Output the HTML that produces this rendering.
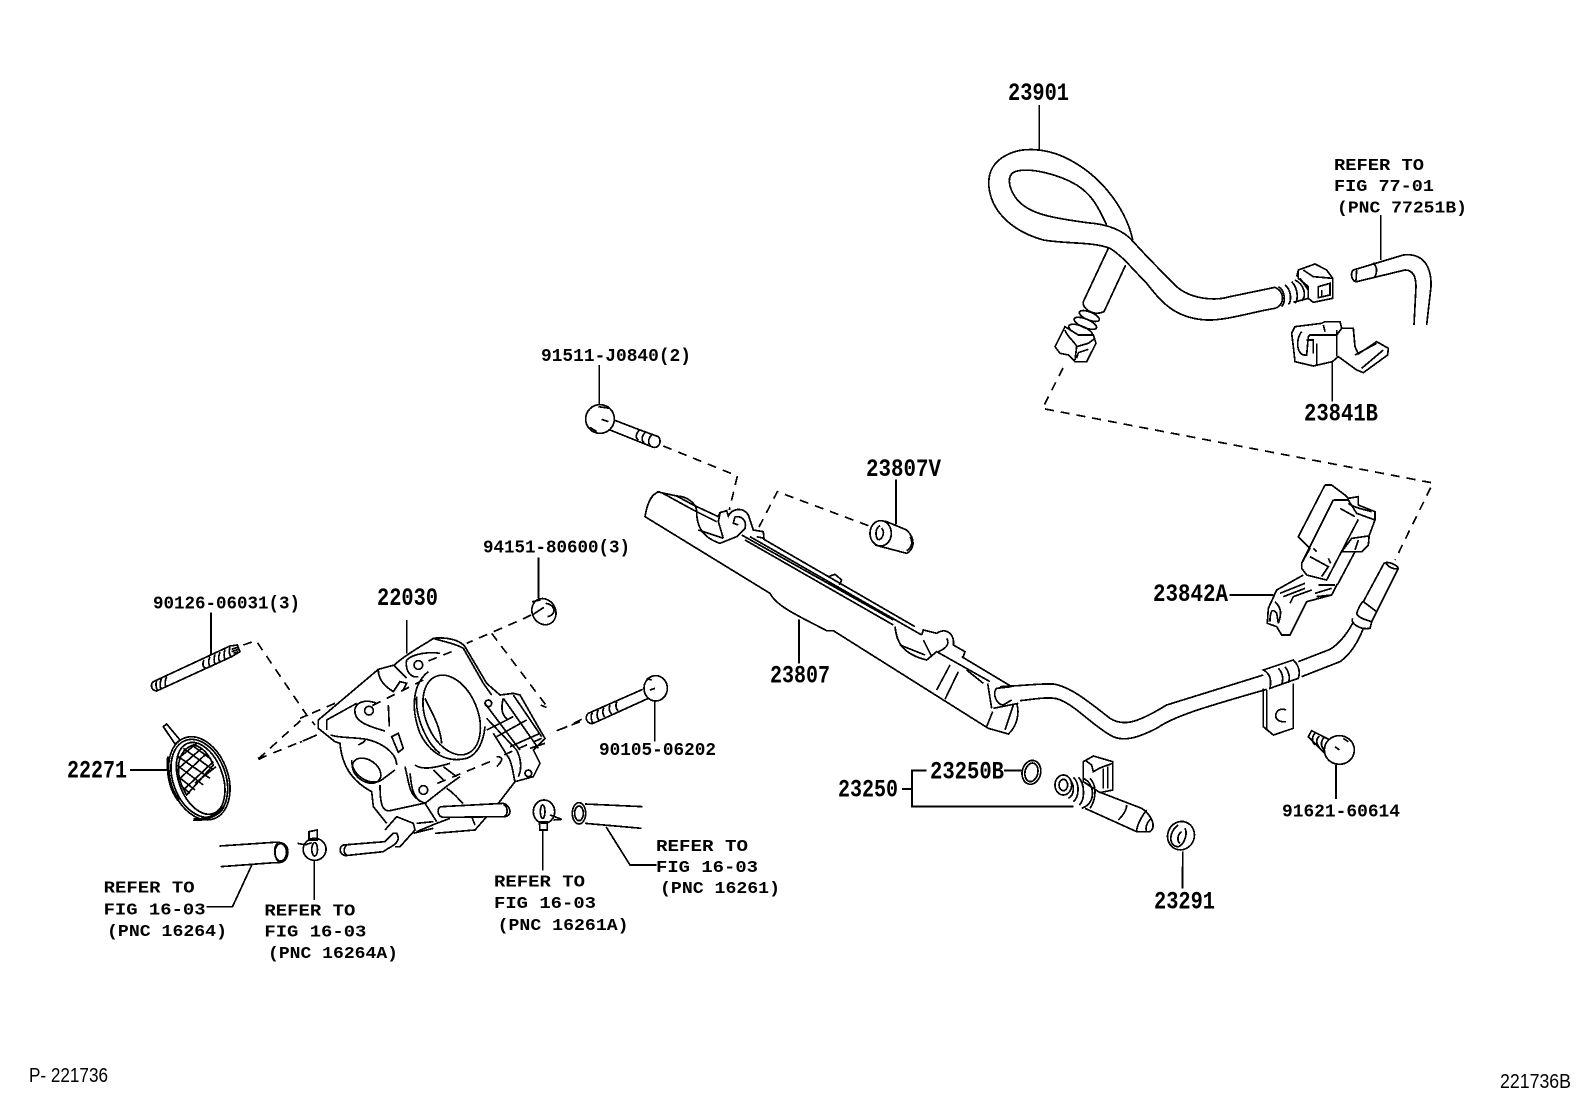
<!DOCTYPE html>
<html><head><meta charset="utf-8"><style>
html,body{margin:0;padding:0;background:#fff}
svg{display:block}
path,line,ellipse,circle{vector-effect:non-scaling-stroke;fill:none;stroke:#000;stroke-width:1.7}
.d{stroke-dasharray:9 7}
.w{fill:#fff}
.lb{stroke-width:1.9}
text{font-family:"Liberation Mono",monospace;font-weight:bold;fill:#000;stroke:none}
.b{font-size:25px}.s{font-size:18.5px}.r{font-size:17px}
.n{font-family:"Liberation Sans",sans-serif;font-weight:normal;font-size:20px}
</style></head><body>
<svg width="1592" height="1099" viewBox="0 0 1592 1099" xmlns="http://www.w3.org/2000/svg" shape-rendering="crispEdges">
<rect width="1592" height="1099" fill="#fff"/>

<!-- Z1 upper hose -->
<g transform="translate(960,60) scale(.33333)">
<path d="M238 135V268"/>
<path d="M518 540C505 470 440 350 310 290C260 268 190 258 140 285C100 305 80 340 88 390C100 460 160 515 250 540C320 552 400 545 450 565C490 590 520 630 560 670C600 720 640 775 740 780C800 782 880 755 945 745"/>
<path d="M440 495C410 430 390 400 350 375C300 345 210 320 165 335C140 345 145 380 165 410C200 465 290 475 380 488C440 492 490 510 520 545C560 590 610 640 650 680C690 715 760 725 810 710L945 682"/>
<path d="M445 565L370 725M497 615L432 755M370 725C365 745 400 770 432 755"/>
<path d="M945 682C975 695 975 735 945 745"/>
<path d="M955 680C975 690 978 725 965 740M975 675C995 690 995 725 985 733M995 665C1015 685 1015 720 1005 730M1005 660C1035 675 1040 710 1025 722M1020 655L1045 690V715L1000 727"/>
<path d="M1015 630L1065 612L1100 630L1118 655V715L1060 727L1045 715V680L1015 655ZM1015 630L1010 650M1030 630L1060 650L1118 655M1075 680L1110 670V705L1075 713ZM1085 690V708"/>
<ellipse cx="388" cy="768" rx="32" ry="12" transform="rotate(22 388 768)"/>
<ellipse cx="376" cy="790" rx="36" ry="13" transform="rotate(22 376 790)"/>
<ellipse cx="362" cy="812" rx="38" ry="14" transform="rotate(22 362 812)"/>
<path class="w" d="M315 800L285 860L300 880L325 885L345 905L380 905L408 850L400 825L355 825Z"/>
<path d="M315 810C320 830 345 845 350 860L345 900M350 860L385 850L405 835M355 878L385 868M355 878L350 895"/>
<path d="M1262 465V600"/>
<path d="M1180 630L1330 585C1390 578 1415 620 1413 680L1400 795"/>
<path d="M1180 630C1170 640 1175 665 1190 665L1335 630C1365 630 1368 660 1368 680L1362 795M1190 630L1188 662M1240 608C1255 625 1250 640 1245 650"/>
<path d="M1005 800L1085 790L1095 785L1140 785L1145 805L1180 805L1185 860L1195 882L1250 845L1285 865L1283 885L1210 938L1190 930L1135 890L1117 905L1060 918L1005 905L1000 860L995 820Z"/>
<path d="M1025 815C1005 840 1010 890 1040 885L1045 830L1050 825H1130L1145 805M1070 850V918M1040 840H1060V880M1185 885L1250 850M1205 925L1270 870M1130 810V890M1117 905V1025M1090 795L1095 815"/>
</g>
<path class="d" d="M1063 368L1042.5 408.5L1433 483L1395 560"/>

<!-- Z6 throttle body -->
<g transform="translate(300,620) scale(.33333)">
<path d="M320 0V100"/>
<path d="M283 135C320 100 380 70 400 55C440 50 480 60 495 80L560 190L600 225L640 220L660 225L720 330L735 355L700 390L720 430L700 470L645 485L595 550"/>
<path d="M283 135L235 148L55 300V325L105 365L120 370C125 430 150 480 215 515L220 560L260 610"/>
<path d="M235 150C235 180 255 200 280 215L300 185L320 190L310 210M280 135L320 175M320 120C315 150 330 175 355 170M320 120C340 100 390 95 420 100"/>
<circle cx="355" cy="135" r="13"/>
<path d="M400 55C430 65 465 70 490 85L550 190L575 225"/>
<ellipse cx="455" cy="285" rx="78" ry="125" transform="rotate(-22 455 285)"/>
<path d="M385 155C340 190 330 260 360 340C390 400 440 430 500 415C530 405 550 370 555 320M375 235C385 260 420 310 425 370M350 230C345 290 380 370 420 400"/>
<path d="M165 265C175 240 205 240 230 250M165 265C160 300 190 315 255 333M265 255L268 320M80 300L170 250M80 300V330"/>
<circle cx="207" cy="272" r="13"/>
<path d="M275 350L295 340L310 385L295 397ZM92 345C120 355 150 350 200 358C250 370 290 400 290 435M175 375C185 370 195 365 195 360"/>
<ellipse cx="200" cy="452" rx="47" ry="32" transform="rotate(35 200 452)"/>
<path d="M155 420C155 470 215 500 245 480L285 450M240 495C240 560 250 575 270 572L380 548"/>
<path d="M315 440C330 500 325 530 375 550L445 495L480 470M345 435C365 450 400 445 450 430M400 450L430 480M430 440L470 470M440 505C470 525 480 545 490 550"/>
<circle cx="370" cy="510" r="13"/>
<path d="M330 460C335 500 335 520 360 545"/>
<path d="M555 250L660 390M560 295L650 390M580 340L630 420M610 235L715 385M640 225L725 350M610 235C600 270 610 290 625 300M590 440C610 420 610 410 590 410M625 410C640 440 640 470 645 485M650 390C665 420 665 450 655 470M560 330L640 290M590 350L680 300M630 380L720 340M690 385L735 370"/>
<circle cx="685" cy="460" r="10"/>
<circle cx="565" cy="250" r="10"/>
<path d="M350 635L410 610L450 595M405 640L525 630L560 590M350 610L400 605M340 640L400 625M515 590L525 615M375 550L410 605"/>
<path d="M255 630L290 590L340 610L345 630L300 680L285 680"/>
<path class="w" d="M425 560L610 550C630 555 640 585 615 590L430 592C410 590 410 560 425 560Z"/>
<path d="M610 553C625 560 625 585 612 590"/>
<path class="w" d="M130 675L255 665L280 640L290 640C300 655 295 670 265 685L250 695L135 707C115 700 118 680 130 675Z"/>
<path d="M140 675C130 685 130 700 140 705"/>
<path class="d" d="M650 5L500 70M455 95L380 125M370 180L215 258M105 250L0 295M50 345L0 367M840 305L750 340M725 355L600 410M570 425L400 495M575 40L745 265L722 255"/>
</g>

<!-- Z10 stud and screen -->
<g transform="translate(130,610) scale(.33333)">
<path d="M243 8V135M0 480H112"/>
<path d="M70 215L300 108L322 105L330 125L305 140L80 243C60 240 62 220 70 215Z"/>
<path d="M80 212C75 225 80 240 85 242M95 205C88 220 90 235 95 238M110 200C103 215 105 230 110 230M222 150C215 165 220 175 232 175M240 140C233 155 236 170 245 170M255 133C250 150 252 162 260 163M270 127C263 145 265 155 275 155M285 118C280 135 282 150 290 148M300 112C295 125 300 140 305 140M305 118L322 112M305 125L325 118M310 130L325 125"/>
<path d="M100 350L110 342L150 390L135 402Z"/>
<ellipse cx="208" cy="505" rx="86" ry="129" transform="rotate(-20 208 505)"/>
<ellipse cx="208" cy="505" rx="79" ry="121" transform="rotate(-20 208 505)"/>
<ellipse cx="212" cy="505" rx="66" ry="112" transform="rotate(-20 212 505)"/>
<path style="stroke-width:3" d="M115 440C112 480 115 530 145 570M190 628C215 632 265 620 280 590"/>
<path d="M170 555C130 490 140 420 190 405C220 410 240 440 250 465ZM185 405L240 445M160 415L250 480M145 440L240 505M140 465L220 525M145 500L195 540M150 525L180 550M145 445L200 400M140 480L215 415M145 510L230 430M160 540L250 455M195 520L258 470"/>
<path class="d" d="M340 105L378 92L530 315L555 345M385 447L530 315M385 447L555 378"/>
<path style="stroke-width:3" d="M385 447L402 438"/>
</g>

<!-- Z2 lower-left -->
<g transform="translate(60,520) scale(.35714,.33333)">
<path d="M447 978L600 967C625 965 640 975 638 1000C635 1025 620 1030 600 1028L450 1040"/>
<ellipse cx="618" cy="997" rx="16" ry="26"/>
<path d="M610 968C595 985 600 1015 615 1028M537 1035L483 1160H410"/>
<ellipse cx="713" cy="988" rx="32" ry="33"/>
<ellipse cx="713" cy="988" rx="8" ry="20"/>
<path d="M697 935L720 930V960H697ZM665 970L690 975M685 975L705 968M712 1020V1140"/>
<path d="M1340 112V235"/>
<ellipse cx="1355" cy="275" rx="33" ry="40" transform="rotate(-20 1355 275)"/>
<path d="M1322 285L1355 262M1360 250C1390 255 1390 285 1365 290M1322 245L1345 240"/>
</g>
<path class="d" d="M531 615L517 622"/>

<!-- Z9 -->
<g transform="translate(520,780) scale(.33333)">
<ellipse cx="72" cy="95" rx="32" ry="35"/>
<ellipse cx="68" cy="95" rx="7" ry="20"/>
<path d="M58 125H82V150H60ZM90 105L125 118L100 120M68 150V272"/>
<path d="M195 72L368 80M195 130L365 145M258 140L330 255H410"/>
<ellipse cx="177" cy="100" rx="20" ry="32"/>
<ellipse cx="177" cy="100" rx="13" ry="22"/>
</g>

<!-- Z3 rail -->
<g transform="translate(560,340) scale(.33333)">
<path d="M118 75V195"/>
<path d="M162 240L240 270L295 290C305 300 300 325 280 322L150 270M238 270C225 285 228 295 235 300M255 278C243 290 245 305 253 308M275 285C262 298 265 312 272 318"/>
<circle class="w" cx="120" cy="237" r="43"/>
<path d="M125 238L145 245M90 262L110 275M115 200L150 205"/>
<path class="d" d="M310 318L532 408L508 510"/>
<path class="d" d="M925 557L652 455L595 565"/>
<path d="M1008 418V553"/>
<path d="M975 543L1040 570C1070 600 1060 630 1040 640L945 615M1050 590C1060 605 1055 625 1040 632"/>
<ellipse cx="962" cy="580" rx="32" ry="38"/>
<path d="M960 557C945 565 945 590 955 600M965 565C975 575 970 595 955 600"/>
<path d="M290 455L350 468L400 495L475 530M305 458L400 510L470 545"/>
<path d="M300 455C270 460 260 500 255 530L630 760C650 800 720 830 800 872H820L1150 1080L1285 1165L1345 1182C1370 1160 1380 1120 1370 1090"/>
<path d="M350 468C380 468 410 490 410 515C410 550 420 590 480 610L530 590L555 565C560 545 550 528 525 530M475 530L480 518L500 512L505 528C515 505 550 500 565 525L580 570L610 575L612 595L590 590M415 570L490 595M480 520L475 545L490 595M525 530L520 550L535 555"/>
<path d="M610 597L1065 860M545 585L1000 840M555 600L1000 855M570 590L1085 885M805 710L825 703L845 720L838 735"/>
<path d="M1005 860C1010 900 1020 940 1100 960L1130 935L1290 1025M1085 885L1090 870L1130 880C1160 860 1185 885 1180 915L1215 935L1210 950M1090 900L1115 950M1020 915L1095 945M1160 895C1170 910 1160 925 1135 935"/>
<path d="M1205 950L1355 1040M1130 1050L1170 975M1155 1078L1195 995M1220 990L1270 1030M1283 1030L1295 1105M1300 1105L1375 1090M1280 1160L1298 1115M1355 1040L1310 1045C1295 1060 1310 1095 1330 1095L1355 1080M1360 1095L1335 1170"/>
<path d="M717 838V970"/>
<path d="M248 1048L85 1120C70 1135 85 1155 100 1150L265 1075M170 1085C165 1100 170 1110 175 1112M150 1095C145 1108 150 1118 155 1122M132 1102C125 1115 130 1128 135 1130M115 1110C108 1122 112 1135 117 1140M97 1118C90 1130 95 1145 100 1150"/>
<ellipse class="w" cx="287" cy="1045" rx="35" ry="38"/>
<path d="M260 1015L275 1020M270 1050L285 1045M284 1085V1205"/>
<path class="d" d="M65 1138L10 1165"/>
</g>

<!-- Z4 pipe -->
<g transform="translate(1000,460) scale(.33333)">
<path d="M0 680C60 678 120 670 160 672C210 680 260 720 330 775C370 800 410 790 500 735L790 645"/>
<path d="M60 722C100 718 140 710 170 716C220 730 270 790 330 825C370 850 420 830 470 805C520 770 600 745 800 688"/>
<path d="M895 605L990 568C1020 550 1045 515 1058 490M905 650L1020 605C1050 585 1075 545 1090 505"/>
<path d="M1058 475C1050 490 1080 510 1110 505L1115 485C1100 480 1075 475 1070 460C1075 445 1085 425 1090 425L1130 455L1115 485M1090 425L1152 310C1165 302 1190 315 1195 325L1130 455M1158 310C1165 320 1180 330 1195 325"/>
<path d="M790 630L880 600C900 620 900 640 895 655L810 685C815 660 810 640 790 630ZM835 625C850 640 850 660 845 672M855 620C870 640 870 655 865 668"/>
<path d="M790 685V800L820 825L880 805V670M800 690V812"/>
<path d="M858 750C825 735 810 790 858 785"/>
<path d="M688 405H820"/>
<path d="M925 830L935 812L990 840L975 880ZM945 820C935 830 935 845 945 855M958 828C948 838 948 850 958 862M972 832C962 845 962 858 972 870"/>
<ellipse class="w" cx="1018" cy="870" rx="45" ry="43"/>
<path d="M1030 835L1045 845M1005 860L1018 870"/>
</g>
<!-- Z11 connector -->
<g transform="translate(1260,480) scale(.33333)">
<path d="M195 15L115 170L150 205L125 250V265L140 285M195 15H215L255 45L265 55L295 50V75L345 95V120L328 165L325 195L305 215H245L275 175L325 168M285 215L240 300L232 315"/>
<path d="M220 60L125 250M220 60H265L290 100L345 120M295 118L200 300L140 285M265 70C285 85 320 90 335 95M240 85L285 110M295 180L285 210M150 230L205 260L185 290M205 235L212 250M160 205L170 215"/>
<path d="M130 285L50 330L25 385L22 430L50 440L65 465H90L140 365L215 345L232 312M45 365C65 385 65 400 55 430L50 400C35 380 30 400 30 425M60 340L135 310M70 350L135 325M90 370L100 350L155 330M175 315L225 315M165 340L215 325M170 350L215 345"/>
</g>
<!-- Z12 injector -->
<g transform="translate(1040,740) scale(.33333)">
<path d="M130 65L160 48L218 65V150L180 158L130 125ZM135 60L155 75L160 95L178 85L190 80L218 70M190 85V145M203 80V145"/>
<path d="M85 115C105 130 105 165 85 175M100 112C120 130 118 170 100 185M115 112C135 130 135 180 118 195M130 115C165 130 170 190 125 205"/>
<ellipse class="w" cx="70" cy="135" rx="25" ry="30"/>
<ellipse cx="70" cy="135" rx="13" ry="17"/>
<path d="M150 115C170 135 170 175 150 205M175 155L305 205C335 225 350 260 330 275L290 275L135 205"/>
<path d="M320 210C300 235 290 260 290 275M335 235C320 245 315 265 320 275M235 240C250 225 260 210 260 195"/>
<path class="lb" d="M0 200H100"/>
<ellipse cx="423" cy="287" rx="40" ry="43" transform="rotate(20 423 287)"/>
<path d="M415 255C385 275 385 320 415 320C430 315 445 285 435 265M425 275C410 285 412 305 420 310M428 335V390"/>
</g>
<!-- Z5 -->
<g transform="translate(820,700) scale(.35714,.33333)">
<path class="lb" d="M298 212H258V320H625M230 267H258M515 212H565"/>
<ellipse cx="592" cy="217" rx="26" ry="36" transform="rotate(10 592 217)"/>
<ellipse cx="592" cy="217" rx="18" ry="28" transform="rotate(10 592 217)"/>
<path d="M1445 195V297M1015 500V565"/>
</g>

<!-- Labels -->
<g>
<text class="b" x="1008" y="100" textLength="61" lengthAdjust="spacingAndGlyphs">23901</text>
<text class="r" x="1334" y="170" textLength="90" lengthAdjust="spacingAndGlyphs">REFER TO</text>
<text class="r" x="1334" y="191" textLength="100" lengthAdjust="spacingAndGlyphs">FIG 77-01</text>
<text class="r" x="1337" y="212.7" textLength="130" lengthAdjust="spacingAndGlyphs">(PNC 77251B)</text>
<text class="b" x="1304" y="420.7" textLength="74" lengthAdjust="spacingAndGlyphs">23841B</text>
<text class="s" x="483" y="552.7" textLength="147" lengthAdjust="spacingAndGlyphs">94151-80600(3)</text>
<text class="s" x="153" y="608.7" textLength="147" lengthAdjust="spacingAndGlyphs">90126-06031(3)</text>
<text class="b" x="377" y="605" textLength="61" lengthAdjust="spacingAndGlyphs">22030</text>
<text class="b" x="67" y="777.3" textLength="60" lengthAdjust="spacingAndGlyphs">22271</text>
<text class="r" x="103.6" y="892.7" textLength="91" lengthAdjust="spacingAndGlyphs">REFER TO</text>
<text class="r" x="103.6" y="914.3" textLength="102" lengthAdjust="spacingAndGlyphs">FIG 16-03</text>
<text class="r" x="107" y="936" textLength="120" lengthAdjust="spacingAndGlyphs">(PNC 16264)</text>
<text class="r" x="264.4" y="915.7" textLength="91" lengthAdjust="spacingAndGlyphs">REFER TO</text>
<text class="r" x="264.4" y="936.7" textLength="102" lengthAdjust="spacingAndGlyphs">FIG 16-03</text>
<text class="r" x="268" y="958" textLength="130" lengthAdjust="spacingAndGlyphs">(PNC 16264A)</text>
<text class="r" x="494" y="886.7" textLength="91" lengthAdjust="spacingAndGlyphs">REFER TO</text>
<text class="r" x="494" y="908" textLength="102" lengthAdjust="spacingAndGlyphs">FIG 16-03</text>
<text class="r" x="497.6" y="930" textLength="131" lengthAdjust="spacingAndGlyphs">(PNC 16261A)</text>
<text class="r" x="656" y="851" textLength="92" lengthAdjust="spacingAndGlyphs">REFER TO</text>
<text class="r" x="656" y="872" textLength="102" lengthAdjust="spacingAndGlyphs">FIG 16-03</text>
<text class="r" x="660" y="893" textLength="120" lengthAdjust="spacingAndGlyphs">(PNC 16261)</text>
<text class="s" x="541" y="361" textLength="150" lengthAdjust="spacingAndGlyphs">91511-J0840(2)</text>
<text class="b" x="866" y="476" textLength="75" lengthAdjust="spacingAndGlyphs">23807V</text>
<text class="b" x="770" y="682.7" textLength="60" lengthAdjust="spacingAndGlyphs">23807</text>
<text class="s" x="599" y="755" textLength="117" lengthAdjust="spacingAndGlyphs">90105-06202</text>
<text class="b" x="1153" y="601" textLength="75" lengthAdjust="spacingAndGlyphs">23842A</text>
<text class="b" x="930" y="778.7" textLength="74" lengthAdjust="spacingAndGlyphs">23250B</text>
<text class="b" x="838" y="796.7" textLength="60" lengthAdjust="spacingAndGlyphs">23250</text>
<text class="b" x="1154" y="908.3" textLength="61" lengthAdjust="spacingAndGlyphs">23291</text>
<text class="s" x="1282" y="816.7" textLength="118" lengthAdjust="spacingAndGlyphs">91621-60614</text>
<text class="n" x="29" y="1082" textLength="79" lengthAdjust="spacingAndGlyphs">P- 221736</text>
<text class="n" x="1500" y="1088" textLength="71" lengthAdjust="spacingAndGlyphs">221736B</text>
</g>
</svg>
</body></html>
